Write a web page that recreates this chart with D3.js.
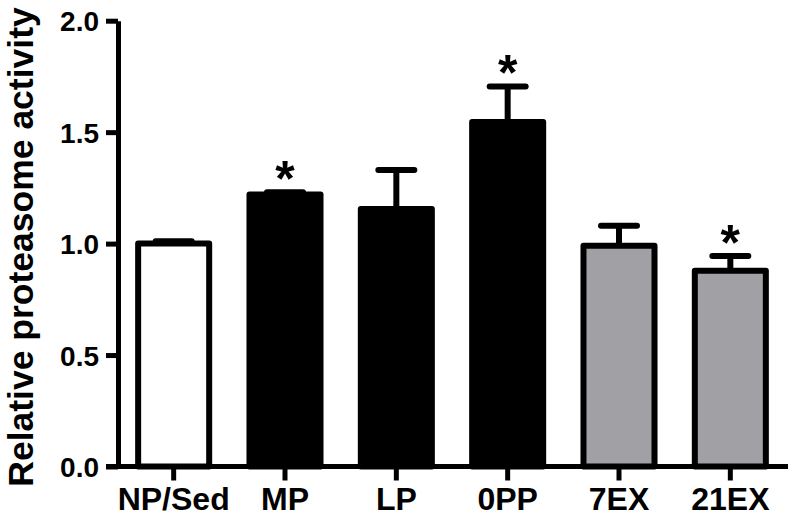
<head>
  <meta charset="utf-8">
  <script src="https://d3js.org/d3.v7.min.js"></script>
  <style>
    body { margin: 0; background: #fff; }
    text { font-family: "Liberation Sans", Arial, sans-serif; font-weight: bold; fill: #000; }
    .axis path, .axis line { stroke: #000; stroke-width: 5; }
    .bar { stroke: #000; stroke-width: 6; stroke-linejoin: round; }
    .err { stroke: #000; stroke-width: 6; stroke-linecap: round; }
  </style>
</head>
<body>
  <script>

  // values
  var categories = ["NP/Sed", "MP", "LP", "0PP", "7EX", "21EX"];
  var groups = ["sed", "preg", "preg", "preg", "ex", "ex"];
  var means = [1.00, 1.22, 1.155, 1.545, 0.99, 0.878];
  var errors = [0.01, 0.01, 0.175, 0.16, 0.09, 0.066];
  var significant = [false, true, false, true, false, true];
  var yTicks = [0, 0.5, 1.0, 1.5, 2.0];

  var data = categories.map(function(c, i) {
    return { name: c, group: groups[i], mean: means[i], err: errors[i], sig: significant[i] };
  });

  var width = 796,
      height = 519;

  var svg = d3.select("body").append("svg")
      .attr("width", width)
      .attr("height", height);

  var x = d3.scaleBand()
      .domain(categories)
      .range([118, 786])
      .paddingInner(0.362)
      .paddingOuter(0.181);

  var y = d3.scaleLinear()
      .domain([0, 2])
      .range([466.5, 20.7]);

  var color = d3.scaleOrdinal()
      .domain(["sed", "preg", "ex"])
      .range(["#ffffff", "#000000", "#a1a1a5"]);

  // error bars (upper only) drawn under the bars
  var errG = svg.append("g");
  errG.selectAll("line.stem")
      .data(data)
      .enter().append("line")
      .attr("class", "err")
      .attr("x1", function(d) { return x(d.name) + x.bandwidth() / 2; })
      .attr("x2", function(d) { return x(d.name) + x.bandwidth() / 2; })
      .attr("y1", function(d) { return y(d.mean); })
      .attr("y2", function(d) { return y(d.mean + d.err); })
      .style("stroke-linecap", "butt");
  errG.selectAll("line.cap")
      .data(data)
      .enter().append("line")
      .attr("class", "err")
      .attr("x1", function(d) { return x(d.name) + x.bandwidth() / 2 - 18; })
      .attr("x2", function(d) { return x(d.name) + x.bandwidth() / 2 + 18; })
      .attr("y1", function(d) { return y(d.mean + d.err); })
      .attr("y2", function(d) { return y(d.mean + d.err); });

  svg.selectAll("rect.bar")
      .data(data)
      .enter().append("rect")
      .attr("class", "bar")
      .attr("x", function(d) { return x(d.name); })
      .attr("width", x.bandwidth())
      .attr("y", function(d) { return y(d.mean); })
      .attr("height", function(d) { return y(0) - y(d.mean); })
      .style("fill", function(d) { return color(d.group); });

  // significance stars
  svg.selectAll("text.star")
      .data(data.filter(function(d) { return d.sig; }))
      .enter().append("text")
      .attr("class", "star")
      .attr("x", function(d) { return x(d.name) + x.bandwidth() / 2; })
      .attr("y", function(d) { return y(d.mean + d.err) + 4; })
      .attr("text-anchor", "middle")
      .style("font-size", "50px")
      .text("*");

  var yAxis = d3.axisLeft(y)
      .tickValues(yTicks)
      .tickSize(12)
      .tickSizeOuter(0)
      .tickFormat(d3.format(".1f"));

  var gy = svg.append("g")
      .attr("class", "axis")
      .attr("transform", "translate(118,0)")
      .call(yAxis);
  gy.selectAll("text")
      .attr("x", -19)
      .attr("dy", "0.36em")
      .style("font-size", "28px");

  var xAxis = d3.axisBottom(x)
      .tickSize(14)
      .tickSizeOuter(0);

  var gx = svg.append("g")
      .attr("class", "axis")
      .attr("transform", "translate(0," + y(0) + ")")
      .call(xAxis);
  gx.select(".domain").attr("d", "M106,0H788");
  gx.selectAll("text")
      .attr("y", 43)
      .attr("dy", 0)
      .style("font-size", "32px");

  svg.append("text")
      .attr("transform", "translate(33,247) rotate(-90)")
      .attr("text-anchor", "middle")
      .style("font-size", "35.5px")
      .text("Relative proteasome activity");

  </script>
</body>
